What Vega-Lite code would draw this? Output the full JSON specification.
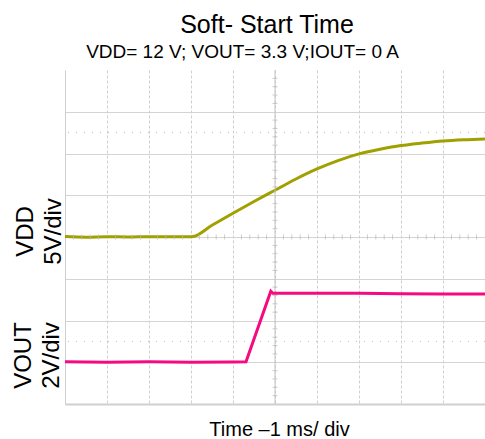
{
  "$schema": "https://vega.github.io/schema/vega-lite/v6.json",
  "width": 420,
  "height": 334,
  "autosize": "none",
  "padding": {"left": 65, "top": 70, "right": 0, "bottom": 35},
  "title": {"text": "Soft- Start Time", "fontSize": 25, "fontWeight": "normal", "color": "black", "anchor": "middle", "dx": -8, "font": "Liberation Sans"},
  "config": {"font": "Liberation Sans", "view": {"stroke": null}},
  "resolve": {"scale": {"y": "independent"}, "axis": {"x": "independent", "y": "independent"}},
  "datasets": {
    "vdd": [
      {"t": 0, "v": 0.05}, {"t": 0.5, "v": -0.02}, {"t": 1.0, "v": 0.03}, {"t": 1.5, "v": 0.0},
      {"t": 2.0, "v": 0.04}, {"t": 2.5, "v": 0.02}, {"t": 3.0, "v": 0.03}, {"t": 3.05, "v": 0.05},
      {"t": 3.5, "v": 1.4}, {"t": 4.0, "v": 2.85}, {"t": 4.5, "v": 4.25}, {"t": 5.0, "v": 5.6},
      {"t": 5.5, "v": 6.95}, {"t": 6.0, "v": 8.15}, {"t": 6.5, "v": 9.15}, {"t": 7.0, "v": 9.95},
      {"t": 7.5, "v": 10.5}, {"t": 8.0, "v": 10.95}, {"t": 8.5, "v": 11.25}, {"t": 9.0, "v": 11.5},
      {"t": 9.5, "v": 11.65}, {"t": 10.0, "v": 11.75}
    ],
    "vout": [
      {"t": 0, "v": 0.02}, {"t": 1, "v": 0.0}, {"t": 2, "v": 0.02}, {"t": 3, "v": 0.0},
      {"t": 4, "v": 0.01}, {"t": 4.31, "v": 0.02}, {"t": 4.9, "v": 3.4}, {"t": 4.95, "v": 3.3},
      {"t": 6, "v": 3.3}, {"t": 7, "v": 3.3}, {"t": 8, "v": 3.28}, {"t": 9, "v": 3.27}, {"t": 10, "v": 3.27}
    ],
    "hticks": [
      {"t": 0.2}, {"t": 0.4}, {"t": 0.6}, {"t": 0.8}, {"t": 1.2}, {"t": 1.4}, {"t": 1.6}, {"t": 1.8},
      {"t": 2.2}, {"t": 2.4}, {"t": 2.6}, {"t": 2.8}, {"t": 3.2}, {"t": 3.4}, {"t": 3.6}, {"t": 3.8},
      {"t": 4.2}, {"t": 4.4}, {"t": 4.6}, {"t": 4.8}, {"t": 5.2}, {"t": 5.4}, {"t": 5.6}, {"t": 5.8},
      {"t": 6.2}, {"t": 6.4}, {"t": 6.6}, {"t": 6.8}, {"t": 7.2}, {"t": 7.4}, {"t": 7.6}, {"t": 7.8},
      {"t": 8.2}, {"t": 8.4}, {"t": 8.6}, {"t": 8.8}, {"t": 9.2}, {"t": 9.4}, {"t": 9.6}, {"t": 9.8}
    ],
    "vticks": [
      {"v": -19}, {"v": -18}, {"v": -17}, {"v": -16}, {"v": -14}, {"v": -13}, {"v": -12}, {"v": -11},
      {"v": -9}, {"v": -8}, {"v": -7}, {"v": -6}, {"v": -4}, {"v": -3}, {"v": -2}, {"v": -1},
      {"v": 1}, {"v": 2}, {"v": 3}, {"v": 4}, {"v": 6}, {"v": 7}, {"v": 8}, {"v": 9},
      {"v": 11}, {"v": 12}, {"v": 13}, {"v": 14}, {"v": 16}, {"v": 17}, {"v": 18}, {"v": 19}
    ]
  },
  "layer": [
    {
      "data": {"name": "vdd"},
      "mark": {"type": "line", "color": "#a0a000", "strokeWidth": 3, "interpolate": "monotone"},
      "encoding": {
        "x": {"field": "t", "type": "quantitative", "scale": {"domain": [0, 10], "nice": false, "zero": false},
          "axis": {"values": [1, 2, 3, 4, 5, 6, 7, 8, 9], "grid": true, "gridDash": [3, 2], "gridColor": "#cfcfcf", "gridWidth": 1,
            "ticks": false, "labels": false, "domain": true, "domainColor": "#cfcfcf", "domainWidth": 2,
            "title": "Time \u20131 ms/ div", "titleFontSize": 20, "titleFontWeight": "normal", "titleColor": "black",
            "titleAlign": "center", "titleBaseline": "alphabetic", "titleX": 214, "titleY": 31}},
        "y": {"field": "v", "type": "quantitative", "scale": {"domain": [-20, 20], "nice": false, "zero": false},
          "axis": {"values": [-15, -10, -5, 0, 5, 10, 15], "grid": true, "gridColor": "#d4d4d4", "gridWidth": 1,
            "ticks": false, "labels": false, "domain": true, "domainColor": "#cfcfcf", "domainWidth": 1,
            "title": ["VDD", "5V/div"], "titleFontSize": 24, "titleFontWeight": "normal", "titleColor": "black",
            "titleAngle": 270, "titleAlign": "center", "titleBaseline": "alphabetic", "titleLineHeight": 28,
            "titleX": -33, "titleY": 161}}
      }
    },
    {
      "data": {"values": [{}]},
      "mark": {"type": "rule", "color": "#c4c4c4", "strokeWidth": 1},
      "encoding": {"x": {"datum": 5, "type": "quantitative", "axis": null}}
    },
    {
      "data": {"values": [{}]},
      "mark": {"type": "rule", "color": "#bdbdbd", "strokeWidth": 1, "strokeDash": [1, 7]},
      "encoding": {"y": {"datum": 12.5, "type": "quantitative", "scale": {"domain": [-20, 20], "nice": false, "zero": false}, "axis": null}}
    },
    {
      "data": {"values": [{}]},
      "mark": {"type": "rule", "color": "#bdbdbd", "strokeWidth": 1, "strokeDash": [1, 7]},
      "encoding": {"y": {"datum": -12.5, "type": "quantitative", "scale": {"domain": [-20, 20], "nice": false, "zero": false}, "axis": null}}
    },
    {
      "data": {"name": "hticks"},
      "mark": {"type": "tick", "orient": "vertical", "color": "#b8b8b8", "size": 5, "thickness": 1},
      "encoding": {
        "x": {"field": "t", "type": "quantitative", "axis": null},
        "y": {"datum": 0, "type": "quantitative", "scale": {"domain": [-20, 20], "nice": false, "zero": false}, "axis": null}
      }
    },
    {
      "data": {"name": "vticks"},
      "mark": {"type": "tick", "orient": "horizontal", "color": "#b8b8b8", "size": 5, "thickness": 1},
      "encoding": {
        "x": {"datum": 5, "type": "quantitative", "axis": null},
        "y": {"field": "v", "type": "quantitative", "scale": {"domain": [-20, 20], "nice": false, "zero": false}, "axis": null}
      }
    },
    {
      "data": {"name": "vout"},
      "mark": {"type": "line", "color": "#f50a82", "strokeWidth": 3},
      "encoding": {
        "x": {"field": "t", "type": "quantitative", "scale": {"domain": [0, 10], "nice": false, "zero": false},
          "axis": {"orient": "top", "grid": false, "ticks": false, "labels": false, "domain": false,
            "title": "VDD= 12 V; VOUT= 3.3 V;IOUT= 0 A", "titleFontSize": 19, "titleFontWeight": "normal", "titleColor": "black",
            "titleAlign": "center", "titleBaseline": "alphabetic", "titleX": 177, "titleY": -13}},
        "y": {"field": "v", "type": "quantitative", "scale": {"domain": [-2, 14], "nice": false, "zero": false},
          "axis": {"orient": "left", "grid": false, "ticks": false, "labels": false, "domain": false,
            "title": ["VOUT", "2V/div"], "titleFontSize": 24, "titleFontWeight": "normal", "titleColor": "black",
            "titleAngle": 270, "titleAlign": "center", "titleBaseline": "alphabetic", "titleLineHeight": 28,
            "titleX": -35, "titleY": 285}}
      }
    }
  ]
}
